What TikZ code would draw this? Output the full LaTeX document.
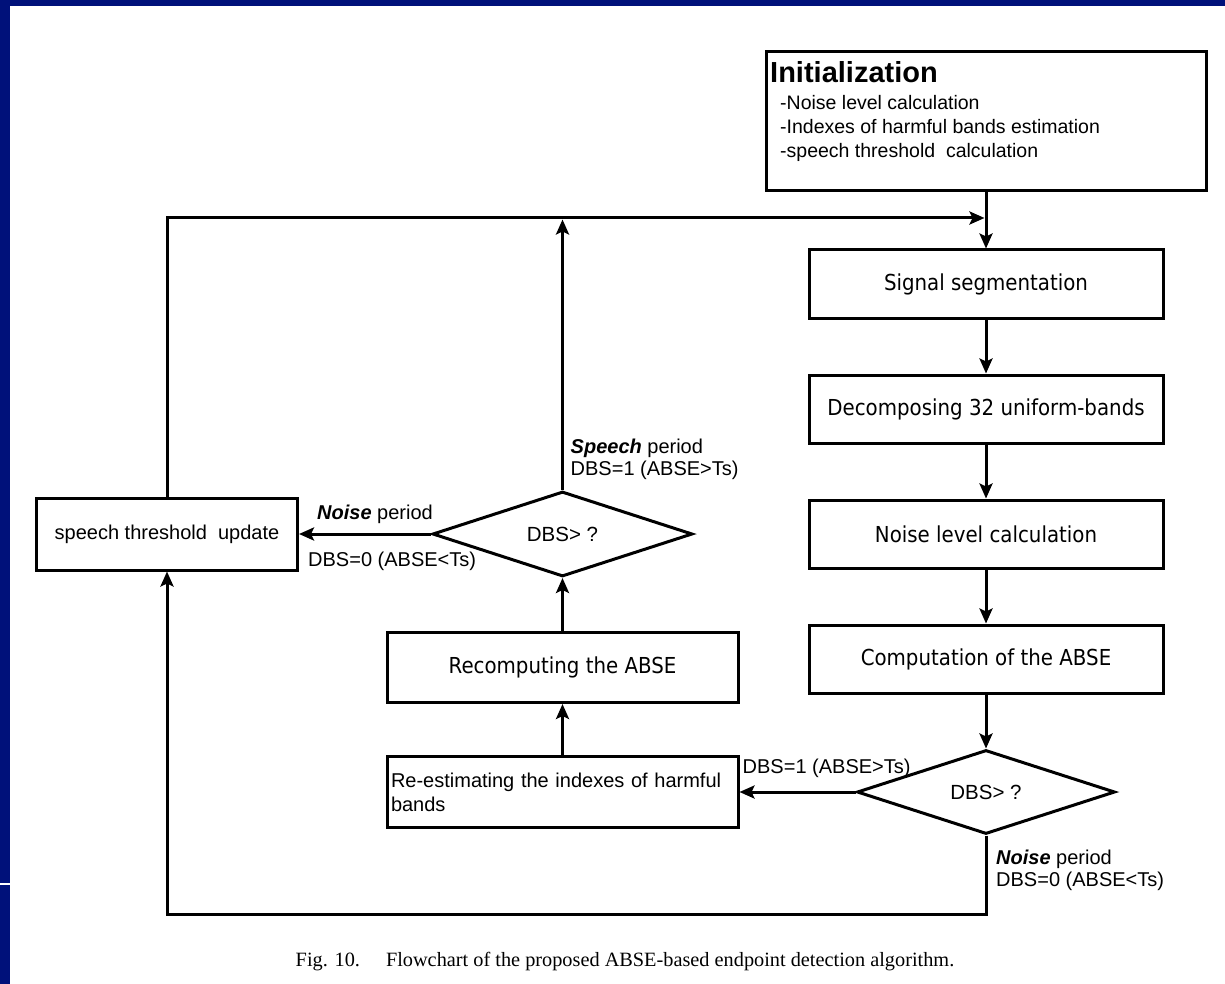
\documentclass[tikz,border=0pt]{standalone}
\usepackage{fontspec}
\setmainfont{Liberation Sans}
\newfontfamily\boxfont[FakeStretch=0.9]{DejaVu Sans}
\newfontfamily\capfont{Liberation Serif}
\usetikzlibrary{shapes.geometric,arrows.meta,calc,positioning}
\definecolor{slideblue}{RGB}{0,17,122}

\tikzset{
  procbox/.style={draw, line width=3pt, minimum width=354pt, minimum height=68pt,
    inner sep=0pt, font=\boxfont\fontsize{22}{26}\selectfont},
  leftbox/.style={draw, line width=3pt, minimum width=351pt, minimum height=71pt,
    inner sep=0pt},
  testdiamond/.style={draw, diamond, line width=3pt, aspect=3.07, inner sep=0pt,
    minimum width=258pt, minimum height=84pt},
  flow/.style={line width=3pt, -{Stealth[length=15pt,width=13pt,inset=3pt]}},
  note/.style={inner sep=0pt, align=left, font=\fontsize{20}{22}\selectfont}
}

\begin{document}
\begin{tikzpicture}[x=1pt, y=-1pt, node distance=54pt,
    font=\fontsize{20}{24}\selectfont]
\useasboundingbox (0,0) rectangle (1225,984);
% slide frame
\fill[slideblue] (0,0) rectangle (1225,984);
\fill[white] (10,6) rectangle (1225,984);
\fill[white] (0,883) rectangle (10,885);

% initialization
\node[draw, line width=3pt, minimum width=440pt, minimum height=139pt] (init) at (986,121.5) {};
\node[anchor=base west, inner sep=0pt, font=\bfseries\fontsize{29}{34}\selectfont]
  (inittitle) at ($(init.north west)+(5.5,32.5)$) {Initialization};
\node[note, anchor=north west, font=\fontsize{19.5}{24}\selectfont]
  (initlist) at ($(init.north west)+(15.5,44.5)$)
  {-Noise level calculation\\-Indexes of harmful bands estimation\\-speech threshold\ \ calculation};

% main column
\node[procbox, below=56pt of init] (seg) {Signal segmentation};
\node[procbox, below=of seg] (dec) {Decomposing 32 uniform-bands};
\node[procbox, below=of dec] (noise) {Noise level calculation};
\node[procbox, below=of noise] (abse) {Computation of the ABSE};
\node[testdiamond, below=54pt of abse, font=\fontsize{20.5}{24}\selectfont] (dbsa) {DBS> ?};

% second pass
\node[leftbox, left=116pt of dbsa, align=left, text width=343pt] (reest)
  {Re-estimating the indexes of harmful\\bands};
\node[leftbox, above=51pt of reest, minimum height=70pt,
  font=\boxfont\fontsize{22}{26}\selectfont] (recomp) {Recomputing the ABSE};
\node[testdiamond, above=53pt of recomp, minimum width=260pt, minimum height=85pt,
  font=\fontsize{20.5}{24}\selectfont] (dbsb) {DBS> ?};
\node[leftbox, left=132pt of dbsb, minimum width=261pt, minimum height=72pt] (thr)
  {speech threshold\ \ update};

% return paths
\coordinate (merge) at ($(init.south)+(0,25.5)$);
\coordinate (back) at ($(dbsa.south)+(0,79)$);

\draw[flow] (init.south) -- (seg.north);
\draw[flow] (seg) -- (dec);
\draw[flow] (dec) -- (noise);
\draw[flow] (noise) -- (abse);
\draw[flow] (abse) -- (dbsa);
\draw[flow] (dbsa.west) -- (reest.east);
\draw[flow] (reest) -- (recomp);
\draw[flow] (recomp) -- (dbsb.south);
\draw[flow] (dbsb.west) -- (thr.east);
\draw[flow, shorten >=1.5pt] (dbsb.north) -- (dbsb.north |- merge);
\draw[flow, shorten >=1.5pt] (thr.north) |- (merge);
\draw[flow] (dbsa.south) -- (back) -| (thr.south);

% branch labels
\node[note, anchor=base west] (lblspeechb) at ($(reest.east)+(3,-19)$) {DBS=1 (ABSE>Ts)};
\node[note, anchor=north west] (lblnoisea) at ($(dbsa.south)+(10,14)$)
  {\textbf{\textit{Noise}} period\\DBS=0 (ABSE<Ts)};
\node[note, anchor=base east] (lblnoiseb) at ($(dbsb.west)+(2,-15)$) {\textbf{\textit{Noise}} period};
\node[note, anchor=base west] (lblzero) at ($(thr.east)+(9,32)$) {DBS=0 (ABSE<Ts)};
\node[note, anchor=south west] (lblspeech) at ($(dbsb.north)+(8,-10)$)
  {\textbf{\textit{Speech}} period\\DBS=1 (ABSE>Ts)};

% caption
\node[anchor=base, inner sep=0pt, font=\capfont\fontsize{20.3}{24}\selectfont] (caption) at (625,966)
  {Fig. 10.\hspace{26pt}Flowchart of the proposed ABSE-based endpoint detection algorithm.};
\end{tikzpicture}
\end{document}
